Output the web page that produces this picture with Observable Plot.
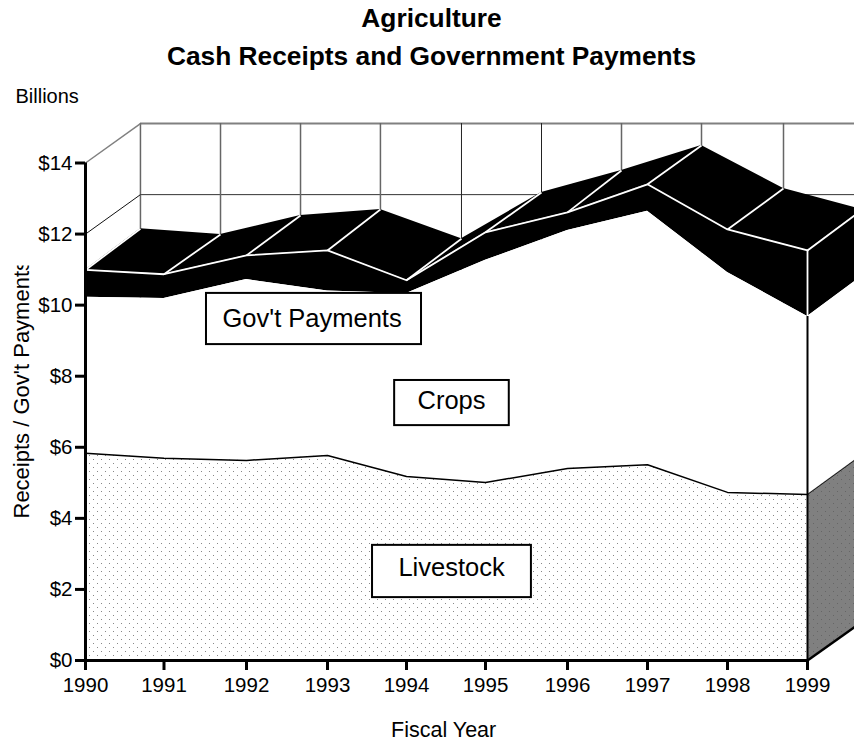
<!DOCTYPE html>
<html>
<head>
<meta charset="utf-8">
<script src="https://cdn.jsdelivr.net/npm/d3@7"></script>
<script src="https://cdn.jsdelivr.net/npm/@observablehq/plot@0.6"></script>
<style>
html,body{margin:0;padding:0;background:#fff;overflow:hidden}
#title{height:78px;position:relative;font:bold 26.3px "Liberation Sans",Arial,sans-serif;color:#000;text-align:center;width:854px}
#title div{position:absolute;left:9px;width:845px;line-height:30px;white-space:nowrap}
svg{display:block}
</style>
</head>
<body>
<div id="title"><div style="top:3px">Agriculture</div><div style="top:41px">Cash Receipts and Government Payments</div></div>
<div id="chart"></div>
<script>
const years = [1990,1991,1992,1993,1994,1995,1996,1997,1998,1999];
const yearPixels = [85,163.5,246,327,406,485,567,647,727,807];
const backYears = [1990.70,1991.685,1992.667,1993.67,1994.696,1995.683,1996.675,1997.675,1998.70,1999.69];
const livestock = [5.83,5.69,5.63,5.77,5.18,5.01,5.40,5.51,4.73,4.67];
const crops = [4.39,4.50,5.09,4.63,5.15,6.25,6.70,7.13,6.19,5.01];
const govt = [0.77,0.68,0.68,1.14,0.37,0.79,0.51,0.76,1.21,1.86];
const backTotal = [12.15,11.99,12.52,12.69,11.87,13.17,13.79,14.49,13.28,12.69];
const backSide = {crops:10.83, livestock:5.8, floor:1.1};
const yTicks = [0,2,4,6,8,10,12,14];
const wallTop = 15.11, wallGrid = 13.11;
const boxes = [
  {name:"Gov't Payments", x1:1991.515, x2:1994.19, y1:8.89, y2:10.33, cx:1992.81, cy:9.62},
  {name:"Crops", x1:1993.85, x2:1995.29, y1:6.61, y2:7.88, cx:1994.57, cy:7.32},
  {name:"Livestock", x1:1993.57, x2:1995.56, y1:1.77, y2:3.24, cx:1994.57, cy:2.62}
];
const grayBacks = [0,1,2,3,6,7,8].map(i=>backYears[i]);
const darkBacks = [4,5].map(i=>backYears[i]);

const rows = years.map((year,i)=>({
  year, back:backYears[i],
  live:livestock[i],
  crop:livestock[i]+crops[i],
  total:livestock[i]+crops[i]+govt[i],
  backTotal:backTotal[i]
}));
const last = rows[rows.length-1];
const sideFace = (a,b,c,d)=>[{x1:last.year,y1:a,x2:last.back,y2:b},{x1:last.year,y1:c,x2:last.back,y2:d}];
const font = '"Liberation Sans",Arial,sans-serif';

const defs = () => {
  const d = d3.create("svg:defs");
  const p1 = d.append("pattern").attr("id","dots").attr("width",8).attr("height",8).attr("patternUnits","userSpaceOnUse");
  p1.append("rect").attr("width",8).attr("height",8).attr("fill","#fff");
  p1.append("rect").attr("x",1).attr("y",1).attr("width",1).attr("height",1).attr("fill","#888");
  p1.append("rect").attr("x",5).attr("y",5).attr("width",1).attr("height",1).attr("fill","#888");
  const p2 = d.append("pattern").attr("id","dotsDark").attr("width",8).attr("height",8).attr("patternUnits","userSpaceOnUse");
  p2.append("rect").attr("width",8).attr("height",8).attr("fill","#808080");
  p2.append("rect").attr("x",1).attr("y",1).attr("width",1).attr("height",1).attr("fill","#666");
  p2.append("rect").attr("x",5).attr("y",5).attr("width",1).attr("height",1).attr("fill","#666");
  // the rotated axis title is cut off at its far end; its group is shifted by (-64, -142)
  const c = d.append("clipPath").attr("id","labelClip");
  c.append("rect").attr("x",60).attr("y",329).attr("width",60).attr("height",270);
  return d.node();
};

const plot = Plot.plot({
  width:854, height:664,
  marginTop:84.5, marginBottom:82, marginLeft:85, marginRight:47,
  style:{fontFamily:font, fontSize:"20.5px", background:"#fff", color:"#000"},
  x:{type:"linear", domain:years, range:yearPixels},
  y:{domain:[0,14]},
  marks:[
    defs,
    // back walls
    Plot.ruleY([wallTop],{x1:backYears[0],x2:backYears[9],stroke:"#808080",strokeWidth:2}),
    Plot.ruleY([wallGrid],{x1:backYears[0],x2:backYears[9],stroke:"#333",strokeWidth:1}),
    Plot.ruleX(grayBacks,{y1:backSide.floor,y2:wallTop,stroke:"#666",strokeWidth:1.5}),
    Plot.ruleX(darkBacks,{y1:backSide.floor,y2:wallTop,stroke:"#222",strokeWidth:1}),
    Plot.link([{a:1990,b:14,c:backYears[0],d:wallTop}],{x1:"a",y1:"b",x2:"c",y2:"d",stroke:"#808080",strokeWidth:1.5}),
    Plot.link([{a:1990,b:12,c:backYears[0],d:wallGrid}],{x1:"a",y1:"b",x2:"c",y2:"d",stroke:"#111",strokeWidth:1}),
    // roof surface
    Plot.area(rows,{x1:"year",y1:"total",x2:"back",y2:"backTotal",fill:"#000"}),
    // side faces
    Plot.area(sideFace(last.crop,backSide.crops,last.total,backTotal[9]),{x1:"x1",y1:"y1",x2:"x2",y2:"y2",fill:"#000"}),
    Plot.area(sideFace(last.live,backSide.livestock,last.crop,backSide.crops),{x1:"x1",y1:"y1",x2:"x2",y2:"y2",fill:"#fff"}),
    Plot.area(sideFace(0,backSide.floor,last.live,backSide.livestock),{x1:"x1",y1:"y1",x2:"x2",y2:"y2",fill:"url(#dotsDark)"}),
    // front faces
    Plot.areaY(rows,{x:"year",y1:"crop",y2:"total",fill:"#000"}),
    Plot.areaY(rows,{x:"year",y1:"live",y2:"crop",fill:"#fff"}),
    Plot.areaY(rows,{x:"year",y1:0,y2:"live",fill:"url(#dots)"}),
    Plot.line(rows,{x:"year",y:"live",stroke:"#000",strokeWidth:1.5}),
    // white dividers
    Plot.link(rows,{x1:"year",y1:"total",x2:"back",y2:"backTotal",stroke:"#fff",strokeWidth:1.8}),
    Plot.line(rows,{x:"year",y:"total",stroke:"#fff",strokeWidth:1.8}),
    Plot.ruleX([1999],{y1:last.crop,y2:last.total,stroke:"#fff",strokeWidth:1.8}),
    Plot.ruleX([1999],{y1:0,y2:last.crop,stroke:"#000",strokeWidth:2}),
    Plot.link([{a:1999,b:last.live,c:last.back,d:backSide.livestock}],{x1:"a",y1:"b",x2:"c",y2:"d",stroke:"#000",strokeWidth:0.8}),
    // axes
    Plot.link([{a:1999,b:0,c:last.back,d:backSide.floor}],{x1:"a",y1:"b",x2:"c",y2:"d",stroke:"#000",strokeWidth:2.5}),
    Plot.ruleX([1990],{y1:0,y2:14,stroke:"#000",strokeWidth:3}),
    Plot.ruleY([0],{x1:1990,x2:1999,stroke:"#000",strokeWidth:3}),
    Plot.axisY({ticks:yTicks,tickSize:10,strokeWidth:3,tickPadding:3,tickFormat:d=>"$"+d,label:null,anchor:"left",fontSize:20.5}),
    Plot.axisX({ticks:years,tickSize:10,strokeWidth:3,tickPadding:7,tickFormat:d=>String(d),label:null,anchor:"bottom",fontSize:20.5}),
    // boxes
    Plot.rect(boxes,{x1:"x1",x2:"x2",y1:"y1",y2:"y2",fill:"#fff",stroke:"#000",strokeWidth:2}),
    Plot.text(boxes,{x:"cx",y:"cy",text:"name",fontSize:25.5,textAnchor:"middle",lineAnchor:"middle",fill:"#000"}),
    // axis titles
    Plot.text(["Billions"],{frameAnchor:"top-left",dx:-70,dy:-66,fontSize:20,textAnchor:"start",lineAnchor:"middle",fill:"#000"}),
    Plot.text(["Fiscal Year"],{x:1994.47,frameAnchor:"bottom",dy:70,fontSize:21.5,textAnchor:"middle",lineAnchor:"middle",fill:"#000"}),
    Plot.text(["Receipts / Gov't Payments"],{frameAnchor:"bottom-left",dx:-64,dy:-142,rotate:-90,fontSize:22,textAnchor:"start",lineAnchor:"middle",fill:"#000",className:"ylab"})
  ]
});
d3.select(plot).select(".ylab").attr("clip-path","url(#labelClip)");
document.getElementById("chart").appendChild(plot);
</script>
</body>
</html>
